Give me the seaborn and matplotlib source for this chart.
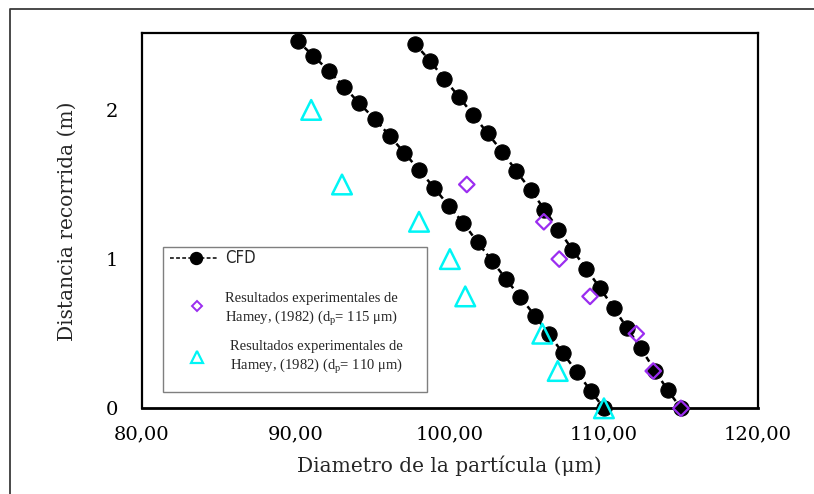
import matplotlib
matplotlib.use("Agg")
import matplotlib.pyplot as plt
from matplotlib import font_manager as fm
from matplotlib.lines import Line2D
from matplotlib.patches import Rectangle
import seaborn as sns
import pandas as pd

# ---------------- data ----------------
cfd110_x = [90.12, 91.14, 92.15, 93.13, 94.12, 95.14, 96.11, 97.05, 98.01, 98.97, 99.94,
            100.87, 101.80, 102.75, 103.64, 104.57, 105.52, 106.41, 107.32, 108.23, 109.14, 110.00]
cfd110_y = [2.462, 2.362, 2.261, 2.156, 2.044, 1.937, 1.825, 1.711, 1.597, 1.479, 1.356,
            1.242, 1.113, 0.987, 0.867, 0.744, 0.621, 0.498, 0.373, 0.245, 0.118, 0.0]

cfd115_x = [97.74, 98.71, 99.64, 100.59, 101.52, 102.45, 103.40, 104.29, 105.24, 106.14,
            107.05, 107.96, 108.86, 109.76, 110.65, 111.52, 112.40, 113.31, 114.13, 115.00]
cfd115_y = [2.442, 2.330, 2.207, 2.088, 1.966, 1.843, 1.720, 1.593, 1.464, 1.332,
            1.197, 1.062, 0.934, 0.804, 0.670, 0.536, 0.401, 0.253, 0.123, 0.0]

exp115_x = [115.0, 113.2, 112.1, 109.1, 107.1, 106.1, 101.1]
exp115_y = [0.0, 0.25, 0.5, 0.75, 1.0, 1.25, 1.5]

exp110_x = [110.0, 107.0, 106.0, 101.0, 100.0, 98.0, 93.0, 91.0]
exp110_y = [0.0, 0.25, 0.5, 0.75, 1.0, 1.25, 1.5, 2.0]

x_ticks = [80, 90, 100, 110, 120]
x_tick_labels = ["80,00", "90,00", "100,00", "110,00", "120,00"]
y_ticks = [0, 1, 2]
y_tick_labels = ["0", "1", "2"]

label_cfd = "CFD"
label_115 = "Resultados experimentales de\nHamey, (1982) (d$_{\\mathrm{p}}$= 115 μm)"
label_110 = "Resultados experimentales de\nHamey, (1982) (d$_{\\mathrm{p}}$= 110 μm)"
xlabel = "Diametro de la partícula (μm)"
ylabel = "Distancia recorrida (m)"

PURPLE = "#9B2DF0"
CYAN = "#00F5F5"

# ---------------- style ----------------
sns.set_style("white")
plt.rcParams["font.family"] = ["DejaVu Serif"]
plt.rcParams["mathtext.fontset"] = "custom"
plt.rcParams["mathtext.rm"] = "Liberation Serif"
plt.rcParams["mathtext.it"] = "Liberation Serif:italic"

# a narrow sans font for the "CFD" legend label, if one is installed
narrow_prop = None
for f in fm.findSystemFonts():
    name = f.split("/")[-1]
    if name in ("LiberationSansNarrow-Regular.ttf", "DejaVuSansCondensed.ttf"):
        narrow_prop = fm.FontProperties(fname=f, size=12)
        if name.startswith("Liberation"):
            break
if narrow_prop is None:
    narrow_prop = fm.FontProperties(family="DejaVu Sans", size=10.5)

fig = plt.figure(figsize=(8.14, 4.94), dpi=100)
ax = fig.add_axes([141.7 / 814, (494 - 408.3) / 494, 616.3 / 814, 374.8 / 494])

# outer frame of the picture
fig.add_artist(Line2D([10 / 814, 10 / 814, 1.01], [-0.01, 1 - 9 / 494, 1 - 9 / 494],
                      transform=fig.transFigure, color="#3a3a3a", lw=1.3))

df110 = pd.DataFrame({"x": cfd110_x, "y": cfd110_y})
df115 = pd.DataFrame({"x": cfd115_x, "y": cfd115_y})
for d in (df110, df115):
    sns.lineplot(data=d, x="x", y="y", sort=False, estimator=None, ax=ax,
                 color="black", linestyle=(0, (2.2, 1.6)), linewidth=1.8,
                 marker="o", markersize=11, markeredgecolor="black",
                 markerfacecolor="black", clip_on=False, zorder=3)

sns.scatterplot(x=exp115_x, y=exp115_y, ax=ax, marker="D", s=62,
                facecolor="none", edgecolor=PURPLE, linewidth=1.6,
                clip_on=False, zorder=4)
sns.scatterplot(x=exp110_x, y=exp110_y, ax=ax, marker="^", s=200,
                facecolor="none", edgecolor=CYAN, linewidth=1.8,
                clip_on=False, zorder=4)

ax.set_xlim(80, 120)
ax.set_ylim(0, 2.512)
ax.set_xticks(x_ticks)
ax.set_xticklabels(x_tick_labels)
ax.set_yticks(y_ticks)
ax.set_yticklabels(y_tick_labels)
ax.tick_params(axis="both", length=0, labelsize=14, colors="black")
ax.tick_params(axis="x", pad=12)
ax.tick_params(axis="y", pad=17)
ax.grid(False)
for sp in ax.spines.values():
    sp.set_visible(True)
    sp.set_color("black")
    sp.set_linewidth(1.6)
ax.spines["bottom"].set_linewidth(2.0)

ax.set_xlabel(xlabel, fontsize=14.5, va="center")
ax.xaxis.set_label_coords(0.5, (408.3 - 466) / 374.8)
ax.set_ylabel(ylabel, fontsize=14.5, va="center")
ax.yaxis.set_label_coords((67 - 141.7) / 616.3, 0.5)

# ---------------- legend (manual box) ----------------
ax.add_patch(Rectangle((0.0341, 0.0435), 0.4289, 0.3869, transform=ax.transAxes,
                       facecolor="white", edgecolor="#7f7f7f", lw=1.0, zorder=5))
ax.add_artist(Line2D([0.0462, 0.1230], [0.401, 0.401], transform=ax.transAxes,
                     color="black", lw=1.1, linestyle=(0, (2.5, 1.5)), zorder=6))
ax.add_artist(Line2D([0.0881], [0.401], transform=ax.transAxes, marker="o",
                     markersize=8.6, color="black", linestyle="none", zorder=7))
ax.text(0.1352, 0.401, label_cfd, transform=ax.transAxes, ha="left", va="center",
        fontproperties=narrow_prop, zorder=7)

ax.add_artist(Line2D([0.0892], [0.2729], transform=ax.transAxes, marker="D",
                     markersize=5.6, markerfacecolor="none", markeredgecolor=PURPLE,
                     markeredgewidth=1.4, linestyle="none", zorder=7))
ax.text(0.1352, 0.2625, label_115, transform=ax.transAxes, ha="left", va="center",
        fontsize=10.5, family=["Liberation Serif", "DejaVu Serif"], linespacing=1.3, zorder=7)

ax.add_artist(Line2D([0.0897], [0.1377], transform=ax.transAxes, marker="^",
                     markersize=9, markerfacecolor="none", markeredgecolor=CYAN,
                     markeredgewidth=1.6, linestyle="none", zorder=7))
ax.text(0.1433, 0.1334, label_110, transform=ax.transAxes, ha="left", va="center",
        fontsize=10.5, family=["Liberation Serif", "DejaVu Serif"], linespacing=1.3, zorder=7)

fig.savefig("out.png", dpi=100)
